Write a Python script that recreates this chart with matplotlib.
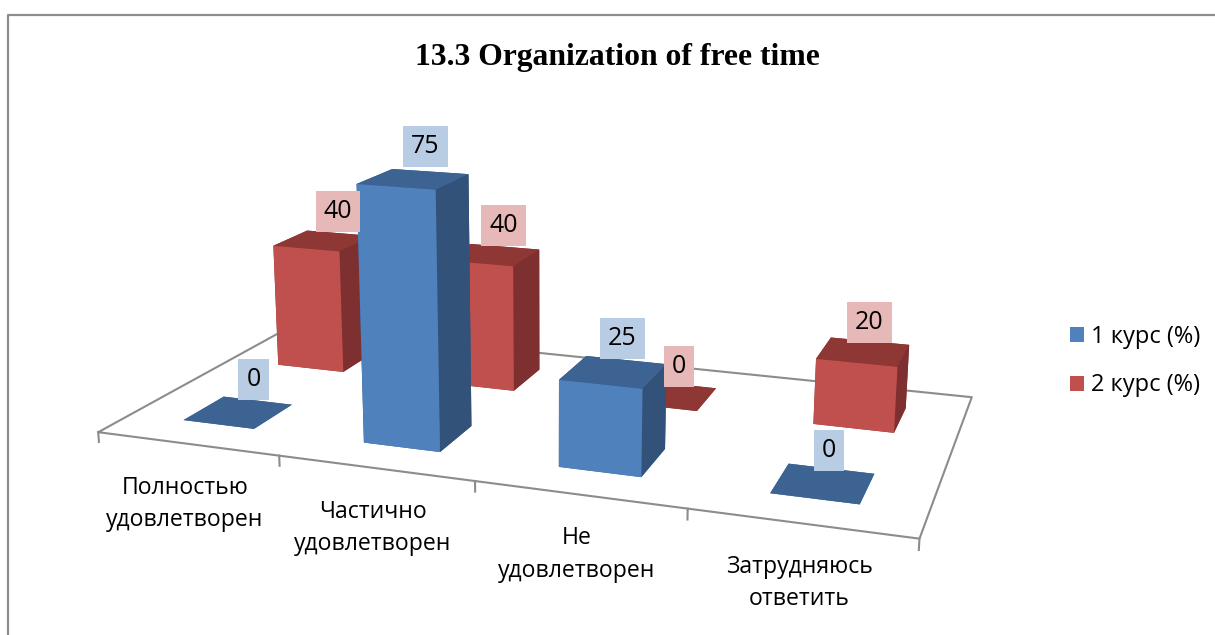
import matplotlib
matplotlib.use('Agg')
import matplotlib.pyplot as plt
from matplotlib.lines import Line2D
from matplotlib.patches import Patch
from mpl_toolkits.mplot3d import proj3d

#-------------------------------------------VALUES-------------------------------------
categories = ['Полностью\nудовлетворен', 'Частично\nудовлетворен', 'Не\nудовлетворен', 'Затрудняюсь\nответить']
course1 = [0, 75, 25, 0]
course2 = [40, 40, 0, 20]
series_names = ['1 курс (%)', '2 курс (%)']
title = '13.3 Organization of free time'
#-------------------------------------------VALUES-------------------------------------

W, H = 1215, 635
plt.rcParams['font.family'] = ['Open Sans', 'DejaVu Sans']

blue = ('#4F81BD', '#3C6391', '#32527A', '#B8CCE4')
red = ('#C0504D', '#8E3735', '#7D302F', '#E6B9B8')

DEPTH = 2.0
ZMAX = 80
ZSCALE = 1.36
BAR = 0.4


def bar(ax, i, row, val, cols, z):
    front, top, side, _ = cols
    # faces: bottom, top, front, back, left, right
    ax.bar3d(i + 0.5 - BAR / 2, row, 0, BAR, 0.2 * DEPTH, val,
             color=[top, top, front, side, side, side], shade=False,
             linewidth=0, zorder=z)


def place(ax, x, y, z, s, dx, dy, **kw):
    # text sits at a pixel offset from the projected 3d point
    xp, yp, _ = proj3d.proj_transform(x, y, z, ax.get_proj())
    ax.annotate(s, (xp, yp), xytext=(dx, dy), textcoords='offset pixels', ha='center', va='center',
                annotation_clip=False, zorder=50, color='black', **kw)


fig = plt.figure(figsize=(W / 100, H / 100), dpi=100)
S = 910
cx, cy = 536, 297
ax = fig.add_axes([(cx - S / 2) / W, (H - cy - S / 2) / H, S / W, S / H], projection='3d')
ax.computed_zorder = False
ax.set_axis_off()
ax.patch.set_alpha(0)
ax.set_xlim(0, 4)
ax.set_ylim(0, DEPTH)
ax.set_zlim(0, ZMAX)
ax.set_box_aspect((4, DEPTH, ZSCALE))
ax.set_proj_type('persp', focal_length=0.35)
ax.view_init(elev=14.5, azim=-70.5)

# floor outline and ticks
floor = '#8C8C8C'
ax.plot([0, 4, 4, 0, 0], [0, 0, DEPTH, DEPTH, 0], [0, 0, 0, 0, 0], color=floor, lw=1.5, zorder=1)
for i in range(5):
    ax.plot([i, i], [0, 0], [0, -3], color=floor, lw=1.5, zorder=1)

# back row first, then the front one
z = 2
for row, vals, cols in ((0.65 * DEPTH, course2, red), (0.15 * DEPTH, course1, blue)):
    for i, v in enumerate(vals):
        bar(ax, i, row, v, cols, z)
        z += 1

# value labels
for row, vals, cols, up in ((0.75 * DEPTH, course2, red, 29), (0.25 * DEPTH, course1, blue, 33)):
    for i, v in enumerate(vals):
        place(ax, i + 0.5, row, v, str(v), 15 - 3 * i, up, fontsize=18,
              bbox=dict(facecolor=cols[3], edgecolor='none', pad=5.7))

for i, c in enumerate(categories):
    place(ax, i + 0.5, 0, 0, c, -2, -60, fontsize=16.6, linespacing=1.45)

fig.text(617 / W, 1 - 58 / H, title, ha='center', va='center', fontsize=22.8, fontweight='bold',
         family='Liberation Serif')

handles = [Patch(facecolor=blue[0]), Patch(facecolor=red[0])]
fig.legend(handles, series_names, loc='center left', bbox_to_anchor=(1070 / W, 1 - 361 / H),
           frameon=False, fontsize=17, handlelength=0.6, handleheight=0.6, handletextpad=0.3,
           labelspacing=1.05, borderpad=0, borderaxespad=0)

# chart border, cut off by the image at the right and bottom
fig.add_artist(Line2D([8 / W, 8 / W, 1], [0, 1 - 15 / H, 1 - 15 / H], color=floor, lw=1.6))

fig.savefig('out.png', dpi=100)
